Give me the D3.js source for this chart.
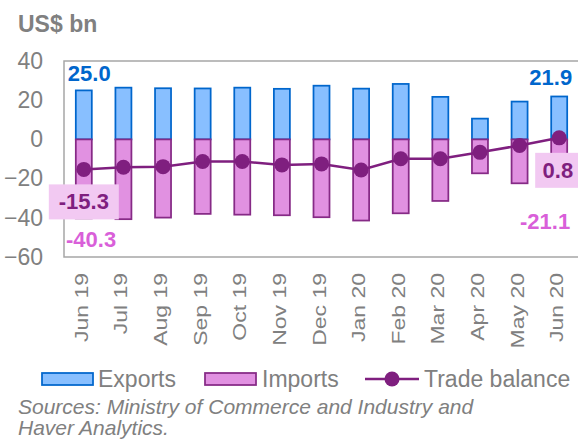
<!DOCTYPE html>
<html>
<head>
<meta charset="utf-8">
<script src="https://cdn.jsdelivr.net/npm/d3@7"></script>
<style>
  body { margin: 0; background: #fff; }
  svg { display: block; font-family: "Liberation Sans", Arial, sans-serif; }
</style>
</head>
<body>
<div id="chart"></div>
<script>
// data (US$ bn)
const months = ["Jun 19", "Jul 19", "Aug 19", "Sep 19", "Oct 19", "Nov 19", "Dec 19",
                "Jan 20", "Feb 20", "Mar 20", "Apr 20", "May 20", "Jun 20"];
const exportsVals = [25.0, 26.4, 26.1, 26.0, 26.4, 25.8, 27.4, 25.9, 28.3, 21.7, 10.6, 19.3, 21.9];
const importsVals = [-40.3, -40.7, -39.9, -38.0, -38.4, -38.7, -39.7, -41.4, -37.7, -31.4, -17.3, -22.4, -21.1];
const balanceVals = [-15.3, -14.2, -13.9, -11.3, -11.3, -13.0, -12.5, -15.6, -9.9, -9.9, -6.6, -3.1, 0.8];
const yTicks = [40, 20, 0, -20, -40, -60];
const legendItems = ["Exports", "Imports", "Trade balance"];

const C = {
  expFill: "#88BFFF", expStroke: "#0066CC",
  impFill: "#E191E1", impStroke: "#862A86",
  line: "#7F1F7F", impLabel: "#D95FD9", box: "#F2C9F2",
  grey: "#808080", frame: "#A6A6A6"
};

class TradeChart {
  constructor(config) {
    this.config = {
      parent: config.parent,
      width: config.width || 578,
      height: config.height || 441,
      margin: config.margin || {top: 61, right: -1, bottom: 184, left: 64}
    };
    this.init();
  }

  init() {
    const c = this.config;
    this.svg = d3.select(c.parent).append("svg")
      .attr("width", c.width)
      .attr("height", c.height);

    this.x = d3.scaleBand().range([c.margin.left, c.width - c.margin.right]).padding(0);
    this.y = d3.scaleLinear().range([c.height - c.margin.bottom, c.margin.top]);

    // unit title
    this.svg.append("text")
      .attr("x", 18).attr("y", 32)
      .attr("font-size", 23).attr("font-weight", "bold")
      .attr("fill", C.grey)
      .text("US$ bn");
  }

  update() {
    this.x.domain(months);
    this.y.domain([-60, 40]);
    this.render();
  }

  render() {
    const svg = this.svg, x = this.x, y = this.y, c = this.config;
    const bw = 16;
    const cx = i => x(months[i]) + x.bandwidth() / 2;
    const rows = months.map((m, i) => ({m, i, e: exportsVals[i], im: importsVals[i], b: balanceVals[i]}));

    // plot frame (right edge falls outside the window)
    svg.append("rect")
      .attr("x", c.margin.left).attr("y", y(40))
      .attr("width", c.width - c.margin.left + 4).attr("height", y(-60) - y(40))
      .attr("fill", "none").attr("stroke", C.frame).attr("stroke-width", 1.5);

    // y axis
    const ya = svg.append("g")
      .attr("transform", `translate(${c.margin.left},0)`)
      .call(d3.axisLeft(y).tickValues(yTicks).tickSize(0).tickPadding(21));
    ya.select(".domain").remove();
    ya.selectAll("text")
      .attr("font-size", 23).attr("fill", C.grey)
      .attr("font-family", "Liberation Sans, Arial, sans-serif");

    // x axis, rotated labels
    const xa = svg.append("g")
      .attr("transform", `translate(0,${y(-60)})`)
      .call(d3.axisBottom(x).tickSize(0));
    xa.select(".domain").remove();
    xa.selectAll("text")
      .attr("font-size", 23).attr("fill", C.grey)
      .attr("font-family", "Liberation Sans, Arial, sans-serif")
      .attr("text-anchor", "end")
      .attr("x", -16).attr("y", 0).attr("dy", "0.22em")
      .attr("transform", "rotate(-90) scale(1,0.8)");

    // bars
    svg.append("g").selectAll("rect")
      .data(rows).join("rect")
      .attr("x", d => cx(d.i) - bw / 2)
      .attr("y", d => y(d.e))
      .attr("width", bw)
      .attr("height", d => y(0) - y(d.e))
      .attr("fill", C.expFill).attr("stroke", C.expStroke).attr("stroke-width", 1.75);

    svg.append("g").selectAll("rect")
      .data(rows).join("rect")
      .attr("x", d => cx(d.i) - bw / 2)
      .attr("y", y(0))
      .attr("width", bw)
      .attr("height", d => y(d.im) - y(0))
      .attr("fill", C.impFill).attr("stroke", C.impStroke).attr("stroke-width", 1.75);

    // trade balance line
    const line = d3.line().x(d => cx(d.i)).y(d => y(d.b));
    svg.append("path")
      .datum(rows)
      .attr("d", line)
      .attr("fill", "none").attr("stroke", C.line).attr("stroke-width", 2.5);
    svg.append("g").selectAll("circle")
      .data(rows).join("circle")
      .attr("cx", d => cx(d.i)).attr("cy", d => y(d.b)).attr("r", 7.5)
      .attr("fill", C.line);

    // value labels on first and last month
    const first = rows[0], last = rows[rows.length - 1];
    const lbl = (tx, ty, anchor, col, txt) => svg.append("text")
      .attr("x", tx).attr("y", ty).attr("text-anchor", anchor)
      .attr("font-size", 22).attr("font-weight", "bold").attr("fill", col)
      .text(txt);

    lbl(cx(0) - 16, y(first.e) - 9, "start", C.expStroke, first.e.toFixed(1));
    lbl(cx(12) + 13, y(last.e) - 11, "end", C.expStroke, last.e.toFixed(1));
    lbl(c.margin.left + 2, y(first.im) + 29, "start", C.impLabel, first.im.toFixed(1));
    lbl(cx(12) + 11, y(last.im) + 48, "end", C.impLabel, last.im.toFixed(1));

    // boxed balance labels
    svg.append("rect")
      .attr("x", cx(0) - 35).attr("y", y(first.b) + 15)
      .attr("width", 70).attr("height", 35).attr("fill", C.box);
    lbl(cx(0), y(first.b) + 40, "middle", C.line, first.b.toFixed(1));
    svg.append("rect")
      .attr("x", cx(12) - 24).attr("y", y(last.b) + 15)
      .attr("width", 48).attr("height", 35).attr("fill", C.box);
    lbl(cx(12) + 14, y(last.b) + 40, "end", C.line, last.b.toFixed(1));

    // legend
    const lg = svg.append("g").attr("font-size", 23).attr("fill", C.grey);
    const ly = 379;
    lg.append("rect").attr("x", 42).attr("y", ly - 6).attr("width", 51).attr("height", 12)
      .attr("fill", C.expFill).attr("stroke", C.expStroke).attr("stroke-width", 1.75);
    lg.append("text").attr("x", 98).attr("y", ly + 8).text(legendItems[0]);
    lg.append("rect").attr("x", 205).attr("y", ly - 6).attr("width", 51).attr("height", 12)
      .attr("fill", C.impFill).attr("stroke", C.impStroke).attr("stroke-width", 1.75);
    lg.append("text").attr("x", 262).attr("y", ly + 8).text(legendItems[1]);
    lg.append("line").attr("x1", 365).attr("x2", 419).attr("y1", ly).attr("y2", ly)
      .attr("stroke", C.line).attr("stroke-width", 2.5);
    lg.append("circle").attr("cx", 392).attr("cy", ly).attr("r", 7.5).attr("fill", C.line);
    lg.append("text").attr("x", 424).attr("y", ly + 8).text(legendItems[2]);

    // source note
    const src = svg.append("text")
      .attr("font-size", 21).attr("font-style", "italic").attr("fill", C.grey);
    src.append("tspan").attr("x", 18).attr("y", 414).text("Sources: Ministry of Commerce and Industry and");
    src.append("tspan").attr("x", 18).attr("y", 435).text("Haver Analytics.");
  }
}

const chart = new TradeChart({parent: "#chart"});
chart.update();
</script>
</body>
</html>
